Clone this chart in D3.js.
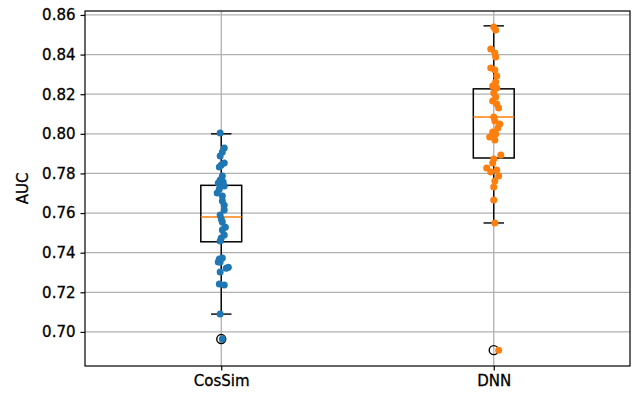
<!DOCTYPE html>
<html><head><meta charset="utf-8">
<script src="https://cdn.jsdelivr.net/npm/d3@7"></script>
<style>body{margin:0;background:#fff}svg{display:block}</style>
</head><body>
<script>
const categories = ["CosSim", "DNN"];
const colors = ["#1f77b4", "#ff7f0e"];
const yTicks = [0.70, 0.72, 0.74, 0.76, 0.78, 0.80, 0.82, 0.84, 0.86];

// box stats: [lowWhisker, q1, median, q3, highWhisker]
const cosSimBox = [0.709, 0.7455, 0.758, 0.774, 0.800];
const dnnBox = [0.755, 0.7878, 0.8085, 0.8227, 0.8545];
const cosSimOutliers = [0.6964];
const dnnOutliers = [0.6908];

// jittered points: values and horizontal jitter (in category units)
const cosSimValues = [0.8004,0.7928,0.7908,0.7888,0.7842,0.7853,0.7832,0.7787,0.7767,0.7752,0.7757,0.7736,0.7721,0.7701,0.7686,0.7661,0.7640,0.7615,0.7590,0.7570,0.7555,0.7529,0.7514,0.7489,0.7474,0.7459,0.7368,0.7373,0.7353,0.7353,0.7322,0.7302,0.7327,0.7242,0.7237,0.7090,0.6964];
const cosSimJitter = [-0.004,0.011,0.004,-0.004,0.0,0.011,-0.007,0.004,-0.004,-0.011,0.007,0.011,-0.007,-0.015,0.004,0.004,0.011,0.011,-0.004,0.0,0.004,0.015,0.004,0.011,0.0,-0.004,-0.007,0.004,-0.004,-0.011,0.018,-0.004,0.026,-0.007,0.011,-0.004,0.004];
const dnnValues = [0.8539,0.8524,0.8428,0.8408,0.8388,0.8332,0.8322,0.8292,0.8262,0.8241,0.8231,0.8206,0.8186,0.8166,0.8151,0.8130,0.8085,0.8065,0.8050,0.8029,0.8009,0.7999,0.7984,0.7969,0.7893,0.7873,0.7853,0.7827,0.7807,0.7817,0.7787,0.7762,0.7731,0.7666,0.7550,0.6908];
const dnnJitter = [0.0,0.007,-0.011,0.004,0.007,-0.011,0.004,0.011,0.007,-0.004,0.011,0.0,0.007,-0.004,0.011,0.018,0.0,0.004,0.022,0.015,-0.004,0.007,-0.015,0.004,0.026,0.0,-0.004,-0.026,-0.011,0.011,0.018,0.004,0.0,0.0,0.004,0.018];

const boxes = [cosSimBox, dnnBox];
const outliers = [cosSimOutliers, dnnOutliers];
const values = [cosSimValues, dnnValues];
const jitters = [cosSimJitter, dnnJitter];

const W = 634, H = 394;
const m = {left: 85, right: 4, top: 11, bottom: 28};
const svg = d3.select("body").append("svg").attr("width", W).attr("height", H)
  .style("font-family", "'DejaVu Sans', sans-serif");

const x = d3.scaleLinear().domain([0.5, 2.5]).range([m.left, W - m.right]);
const y = d3.scaleLinear().domain([0.6828, 0.862]).range([H - m.bottom, m.top]);

// grid
const g = svg.append("g");
g.selectAll("line.gy").data(yTicks).join("line")
  .attr("x1", m.left).attr("x2", W - m.right)
  .attr("y1", d => y(d)).attr("y2", d => y(d))
  .attr("stroke", "#b0b0b0").attr("stroke-width", 1.3);
g.selectAll("line.gx").data([1, 2]).join("line")
  .attr("y1", m.top).attr("y2", H - m.bottom)
  .attr("x1", d => x(d)).attr("x2", d => x(d))
  .attr("stroke", "#b0b0b0").attr("stroke-width", 1.3);

const boxW = 0.15;
boxes.forEach((b, i) => {
  const cx = i + 1;
  const bg = svg.append("g");
  // whiskers
  bg.append("line").attr("x1", x(cx)).attr("x2", x(cx)).attr("y1", y(b[0])).attr("y2", y(b[1])).attr("stroke", "#000").attr("stroke-width", 1.4);
  bg.append("line").attr("x1", x(cx)).attr("x2", x(cx)).attr("y1", y(b[3])).attr("y2", y(b[4])).attr("stroke", "#000").attr("stroke-width", 1.4);
  // caps
  [b[0], b[4]].forEach(v => bg.append("line")
    .attr("x1", x(cx - boxW / 4)).attr("x2", x(cx + boxW / 4))
    .attr("y1", y(v)).attr("y2", y(v)).attr("stroke", "#000").attr("stroke-width", 1.4));
  // box
  bg.append("rect").attr("x", x(cx - boxW / 2)).attr("width", x(cx + boxW / 2) - x(cx - boxW / 2))
    .attr("y", y(b[3])).attr("height", y(b[1]) - y(b[3]))
    .attr("fill", "none").attr("stroke", "#000").attr("stroke-width", 1.5);
  // median
  bg.append("line").attr("x1", x(cx - boxW / 2)).attr("x2", x(cx + boxW / 2))
    .attr("y1", y(b[2])).attr("y2", y(b[2])).attr("stroke", "#ff7f0e").attr("stroke-width", 1.5);
  // outliers
  bg.selectAll("circle.o").data(outliers[i]).join("circle")
    .attr("cx", x(cx)).attr("cy", d => y(d)).attr("r", 4.5)
    .attr("fill", "none").attr("stroke", "#000").attr("stroke-width", 1.4);
});

// points
values.forEach((vals, i) => {
  svg.append("g").selectAll("circle").data(vals).join("circle")
    .attr("cx", (d, j) => x(i + 1 + jitters[i][j]))
    .attr("cy", d => y(d)).attr("r", 3.5)
    .attr("fill", colors[i]);
});

// frame
svg.append("rect").attr("x", m.left).attr("y", m.top)
  .attr("width", W - m.right - m.left).attr("height", H - m.bottom - m.top)
  .attr("fill", "none").attr("stroke", "#000").attr("stroke-width", 1.2);

// axes
const yAxis = svg.append("g").attr("transform", `translate(${m.left},0)`)
  .call(d3.axisLeft(y).tickValues(yTicks).tickFormat(d3.format(".2f")).tickSize(4.5).tickPadding(5));
const xAxis = svg.append("g").attr("transform", `translate(0,${H - m.bottom})`)
  .call(d3.axisBottom(x).tickValues([1, 2]).tickFormat(d => categories[d - 1]).tickSize(4.5).tickPadding(5));
[yAxis, xAxis].forEach(a => {
  a.select(".domain").remove();
  a.selectAll("text").attr("font-size", 15).attr("fill", "#000")
    .attr("stroke", "#000").attr("stroke-width", 0.3)
    .attr("font-family", "'DejaVu Sans', sans-serif");
  a.selectAll("line").attr("stroke", "#000").attr("stroke-width", 1.2);
});

svg.append("text").attr("transform", `translate(28,${(m.top + H - m.bottom) / 2}) rotate(-90)`)
  .attr("text-anchor", "middle").attr("font-size", 15).attr("fill", "#000")
  .attr("stroke", "#000").attr("stroke-width", 0.3).text("AUC");
</script>
</body></html>
